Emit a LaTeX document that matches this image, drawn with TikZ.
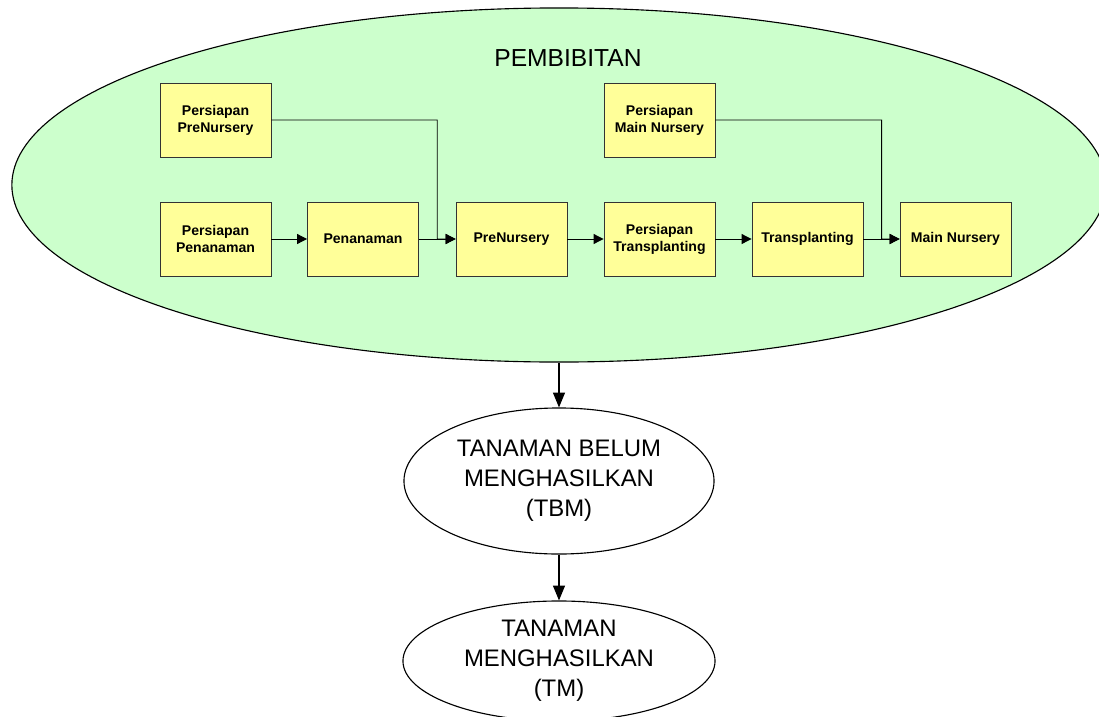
\documentclass[tikz,border=0pt]{standalone}
\usepackage{fontspec}
\setmainfont{Liberation Sans}
\usepackage{tikz}
\usetikzlibrary{shapes.geometric, arrows.meta}
\usetikzlibrary{calc}
\definecolor{nursery-green}{HTML}{CCFFCC}
\definecolor{box-yellow}{HTML}{FFFF99}
\tikzset{
every picture/.style={line width=0.7pt, >={Triangle[length=7pt,width=7pt]}},
%%%%%%%%%%  Node styles
step_box/.style={rectangle, draw=black!80, fill=box-yellow, line width=0.6pt,
                 minimum width=2.775cm, minimum height=1.85cm, inner sep=1pt,
                 align=center, font=\bfseries\fontsize{10}{12}\selectfont},
nursery/.style={ellipse, draw, fill=nursery-green, line width=0.8pt,
                minimum width=27.35cm, minimum height=8.85cm, inner sep=0pt},
stage/.style={ellipse, draw, fill=white, line width=0.8pt, inner sep=0pt,
              minimum width=7.75cm, align=center,
              font=\fontsize{17}{21.3}\selectfont},
title_text/.style={inner sep=0pt, font=\fontsize{17.5}{21}\selectfont},
%%%%%%% arrows between stages
big_arrow/.style={-{Triangle[length=10.5pt,width=8.5pt]}, line width=0.8pt}
}

\begin{document}
\begin{tikzpicture}[x=0.025cm,y=-0.025cm]
\useasboundingbox (0,0) rectangle (1099,717);
\clip (0,0) rectangle (1099,717);
%% nursery stage
\node[nursery] (pembibitan) at (559,185) {};
\node[title_text] (title) at (568,58) {PEMBIBITAN};
%% preparation boxes
\node[step_box] (prep_pre) at (215.5,120) {Persiapan\\PreNursery};
\node[step_box] (prep_main) at (659.5,120) {Persiapan\\Main Nursery};
%% main row
\node[step_box] (prep_plant) at (215.5,239) {Persiapan\\Penanaman};
\node[step_box] (planting) at (363,239) {Penanaman};
\node[step_box] (prenursery) at (511.5,239) {PreNursery};
\node[step_box] (prep_trans) at (659.5,239) {Persiapan\\Transplanting};
\node[step_box] (transplanting) at (807.5,239) {Transplanting};
\node[step_box] (mainnursery) at (955.5,239) {Main Nursery};
%% flow in main row
\draw[->] (prep_plant) -- (planting);
\draw[->] (planting) -- (prenursery);
\draw[->] (prenursery) -- (prep_trans);
\draw[->] (prep_trans) -- (transplanting);
\draw[->] (transplanting) -- (mainnursery);
%% joins from the preparation boxes
\coordinate (join_pre) at ($(planting.east)!0.5!(prenursery.west)$);
\coordinate (join_main) at ($(transplanting.east)!0.5!(mainnursery.west)$);
\draw[->] (prep_pre.east) -| (join_pre) -- (prenursery.west);
\draw[->] (prep_main.east) -| (join_main) -- (mainnursery.west);
%%%%%%%%%%%%%%%%%%%%%%%%%%%%%%%%%%%%%%%%%%%%%%%%%%%%%%%
%% stages after the nursery
\node[stage, minimum height=3.65cm] (tbm) at (559,481)
	{TANAMAN BELUM\\MENGHASILKAN\\(TBM)};
\node[stage, minimum height=3cm, minimum width=7.8cm] (tm) at (559,661)
	{TANAMAN\\MENGHASILKAN\\(TM)};
\draw[big_arrow] (pembibitan.south) -- (tbm.north);
\draw[big_arrow] (tbm.south) -- (tm.north);
\end{tikzpicture}
\end{document}
